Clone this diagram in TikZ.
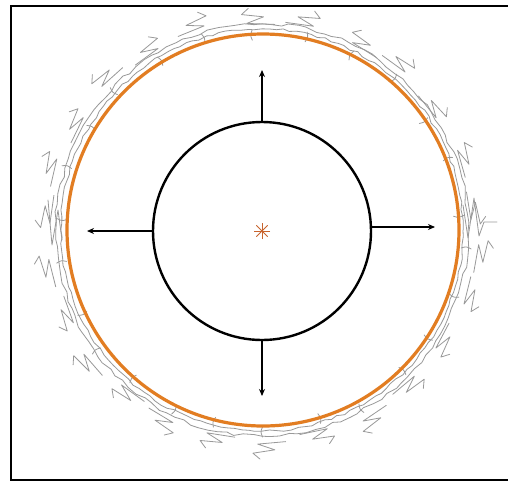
\documentclass[tikz,border=0pt]{standalone}
\usetikzlibrary{arrows.meta,decorations.pathmorphing}
\definecolor{ringorange}{HTML}{E27D22}
\definecolor{starc}{HTML}{C8642E}
\tikzset{
  frameline/.style={line width=2.6pt, black},
  ring/.style={line width=3.2pt, ringorange},
  core/.style={draw, line width=2.4pt, black},
  push/.style={line width=1.5pt, black, -{Stealth[length=7pt,width=6pt]}},
  scrib/.style={line width=0.8pt, black!40, line join=round, line cap=round},
}
\begin{document}
\begin{tikzpicture}[x=1pt,y=-1pt]
\useasboundingbox (0,0) rectangle (508,485);
\fill[white] (0,0) rectangle (508,485);
% frame
\draw[frameline] (510,6) -- (11,6) -- (11,480) -- (510,480);
% scribbles around the ring
\pgfmathsetseed{7}
\draw[scrib, decorate, decoration={random steps,segment length=7pt,amplitude=1.2pt}] (262,230) circle (201);
\draw[scrib, decorate, decoration={random steps,segment length=9pt,amplitude=1.8pt}] (262,230) circle (206);
\foreach \a/\r/\s in {5/207/1, 20/209/-1, 35/205/1, 50/211/1, 62/206/-1, 78/208/1, 92/205/-1, 108/210/1, 122/207/1, 136/213/-1, 150/209/1, 163/215/1, 176/210/-1, 190/213/1, 204/208/-1, 217/215/1, 230/207/1, 243/210/-1, 257/208/1, 271/212/1, 286/207/-1, 300/214/1, 314/209/-1, 328/208/1, 342/213/1, 354/215/-1}{
  \begin{scope}[shift={(262,230)}, rotate=\a]
    \draw[scrib] (\r,-20*\s) -- (\r+2,8*\s) -- (\r+8,-9*\s) -- (\r+11,13*\s) -- (\r+17,6*\s);
    \draw[scrib] (\r-5,3*\s) .. controls (\r-10,5*\s) .. (\r-15,3*\s);
  \end{scope}
}
\draw[scrib] (463,205) -- (468,238) -- (474,198) -- (479,236) -- (484,222) -- (497,222);
\draw[scrib] (48,200) -- (52,245) -- (58,210) -- (62,240);
% orange ring
\draw[ring] (263,230) circle (196);
% core
\node[circle, core, minimum size=218pt, inner sep=0pt] (core) at (262,231) {};
\coordinate (pn) at (262,70);
\coordinate (ps) at (262,396);
\coordinate (pw) at (87,231);
\coordinate (pe) at (435,227);
\draw[push] (core.north) -- (pn);
\draw[push] (core.south) -- (ps);
\draw[push] (core.west) -- (pw);
\draw[push] (core.east |- pe) -- (pe);
% centre star
\node[starc, inner sep=0pt] (star) at (262,231) {};
\foreach \t in {0,45,90,135}{
  \draw[starc, line width=0.8pt] ([shift={(\t:8)}]star.center) -- ([shift={(\t+180:8)}]star.center);
}
\end{tikzpicture}
\end{document}
